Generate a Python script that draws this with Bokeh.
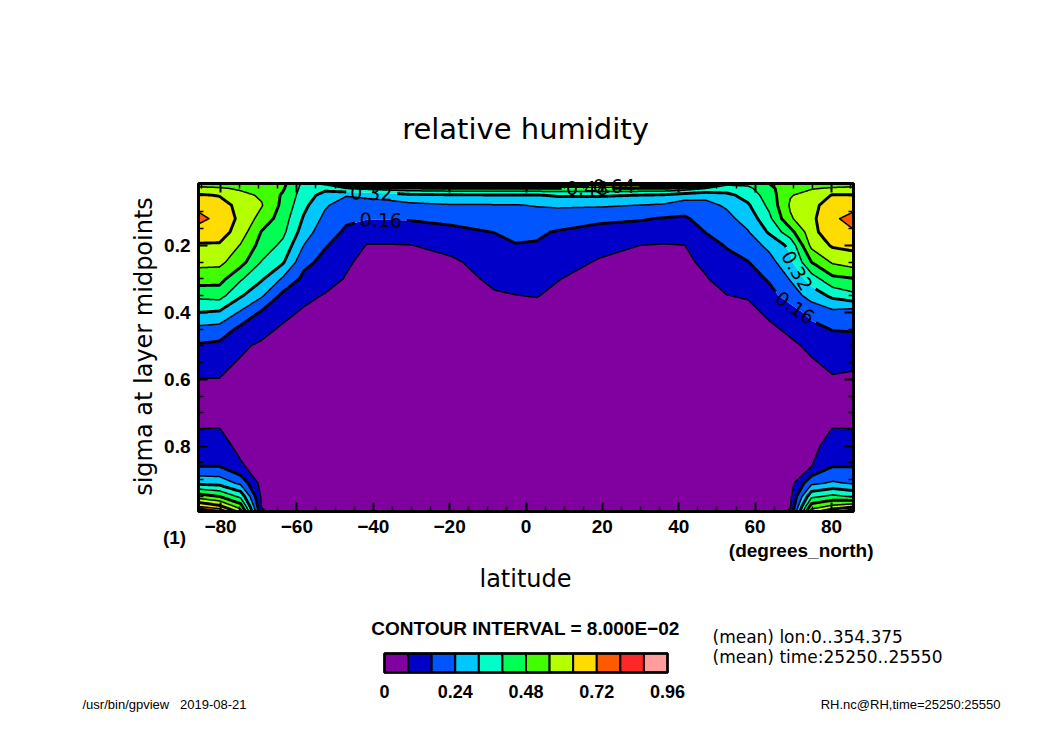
import math
import numpy as np
import contourpy
from bokeh.plotting import figure
from bokeh.models import Range1d, FixedTicker, LinearAxis, Label
from bokeh.embed import file_html
from bokeh.resources import INLINE

# ---------------- data ----------------
lats = [-85.76, -80.27, -74.74, -69.21, -63.68, -58.14, -52.61, -47.07, -41.53, -36.00,
        -30.46, -19.38, -8.31, -2.77, 2.77, 8.31, 19.38, 30.46, 36.00, 41.53,
        47.07, 52.61, 58.14, 63.68, 69.21, 74.74, 80.27, 85.76]
sigma = [0.015, 0.03, 0.05, 0.08, 0.12, 0.16, 0.2, 0.25, 0.3, 0.35, 0.4,
         0.45, 0.5, 0.6, 0.7, 0.75, 0.8, 0.86, 0.91, 0.95, 0.98, 0.995]

# one vertical profile (top -> bottom, at the sigma levels above) per latitude
rh_by_lat = [
    [0.52, 0.58, 0.65, 0.70, 0.74, 0.69, 0.63, 0.58, 0.52, 0.42, 0.32, 0.22, 0.15, 0.078, 0.06, 0.081, 0.11, 0.16, 0.30, 0.52, 0.72, 0.88],
    [0.52, 0.57, 0.635, 0.68, 0.70, 0.68, 0.63, 0.58, 0.51, 0.43, 0.31, 0.21, 0.14, 0.078, 0.06, 0.082, 0.11, 0.16, 0.29, 0.48, 0.66, 0.80],
    [0.50, 0.55, 0.58, 0.61, 0.62, 0.60, 0.555, 0.51, 0.41, 0.33, 0.23, 0.14, 0.09, 0.06, 0.05, 0.05, 0.06, 0.09, 0.22, 0.38, 0.52, 0.60],
    [0.50, 0.53, 0.55, 0.565, 0.53, 0.475, 0.45, 0.395, 0.33, 0.25, 0.15, 0.10, 0.07, 0.05, 0.04, 0.04, 0.04, 0.045, 0.05, 0.065, 0.075, 0.09],
    [0.50, 0.49, 0.47, 0.46, 0.44, 0.42, 0.38, 0.33, 0.23, 0.14, 0.10, 0.07, 0.05, 0.04, 0.035, 0.035, 0.035, 0.035, 0.04, 0.04, 0.045, 0.05],
    [0.38, 0.37, 0.36, 0.34, 0.31, 0.28, 0.238, 0.18, 0.14, 0.10, 0.07, 0.05, 0.045, 0.04, 0.035, 0.035, 0.035, 0.035, 0.035, 0.04, 0.04, 0.045],
    [0.42, 0.34, 0.29, 0.25, 0.22, 0.19, 0.165, 0.14, 0.11, 0.075, 0.05, 0.04, 0.04, 0.035, 0.03, 0.03, 0.03, 0.03, 0.03, 0.035, 0.035, 0.04],
    [0.70, 0.40, 0.245, 0.20, 0.17, 0.15, 0.13, 0.09, 0.075, 0.06, 0.05, 0.04, 0.035, 0.03, 0.03, 0.03, 0.03, 0.03, 0.03, 0.03, 0.035, 0.04],
    [0.80, 0.42, 0.26, 0.20, 0.162, 0.13, 0.075, 0.06, 0.05, 0.045, 0.04, 0.035, 0.03, 0.03, 0.03, 0.03, 0.03, 0.03, 0.03, 0.03, 0.035, 0.04],
    [0.82, 0.44, 0.27, 0.21, 0.163, 0.13, 0.075, 0.06, 0.05, 0.045, 0.04, 0.035, 0.03, 0.03, 0.03, 0.03, 0.03, 0.03, 0.03, 0.03, 0.035, 0.04],
    [0.85, 0.45, 0.30, 0.22, 0.165, 0.13, 0.078, 0.06, 0.05, 0.045, 0.04, 0.035, 0.03, 0.03, 0.03, 0.03, 0.03, 0.03, 0.03, 0.03, 0.035, 0.04],
    [0.85, 0.46, 0.31, 0.235, 0.18, 0.14, 0.10, 0.07, 0.06, 0.05, 0.045, 0.04, 0.035, 0.03, 0.03, 0.03, 0.03, 0.03, 0.03, 0.03, 0.035, 0.04],
    [0.85, 0.46, 0.315, 0.235, 0.19, 0.162, 0.13, 0.11, 0.09, 0.075, 0.06, 0.05, 0.045, 0.04, 0.035, 0.035, 0.035, 0.035, 0.035, 0.04, 0.04, 0.045],
    [0.85, 0.46, 0.315, 0.235, 0.19, 0.17, 0.158, 0.125, 0.10, 0.079, 0.065, 0.055, 0.05, 0.04, 0.035, 0.035, 0.035, 0.035, 0.035, 0.04, 0.04, 0.045],
    [0.85, 0.46, 0.315, 0.245, 0.20, 0.17, 0.155, 0.125, 0.10, 0.082, 0.065, 0.055, 0.05, 0.04, 0.035, 0.035, 0.035, 0.035, 0.035, 0.04, 0.04, 0.045],
    [0.85, 0.46, 0.33, 0.25, 0.20, 0.155, 0.13, 0.10, 0.082, 0.07, 0.06, 0.05, 0.045, 0.04, 0.035, 0.035, 0.035, 0.035, 0.035, 0.04, 0.04, 0.045],
    [0.85, 0.46, 0.33, 0.25, 0.175, 0.135, 0.095, 0.075, 0.06, 0.05, 0.045, 0.04, 0.035, 0.03, 0.03, 0.03, 0.03, 0.03, 0.03, 0.03, 0.035, 0.04],
    [0.85, 0.46, 0.318, 0.238, 0.165, 0.13, 0.079, 0.06, 0.05, 0.045, 0.04, 0.035, 0.03, 0.03, 0.03, 0.03, 0.03, 0.03, 0.03, 0.03, 0.035, 0.04],
    [0.85, 0.46, 0.31, 0.23, 0.155, 0.12, 0.075, 0.06, 0.05, 0.045, 0.04, 0.035, 0.03, 0.03, 0.03, 0.03, 0.03, 0.03, 0.03, 0.03, 0.035, 0.04],
    [0.82, 0.44, 0.28, 0.20, 0.15, 0.12, 0.079, 0.065, 0.055, 0.05, 0.045, 0.04, 0.035, 0.03, 0.03, 0.03, 0.03, 0.03, 0.03, 0.03, 0.035, 0.04],
    [0.72, 0.40, 0.26, 0.22, 0.19, 0.162, 0.135, 0.095, 0.075, 0.065, 0.055, 0.045, 0.04, 0.035, 0.03, 0.03, 0.03, 0.03, 0.03, 0.03, 0.035, 0.04],
    [0.42, 0.36, 0.30, 0.25, 0.22, 0.19, 0.165, 0.14, 0.11, 0.079, 0.06, 0.05, 0.045, 0.04, 0.035, 0.035, 0.035, 0.035, 0.035, 0.04, 0.04, 0.045],
    [0.42, 0.38, 0.35, 0.31, 0.27, 0.235, 0.20, 0.158, 0.12, 0.085, 0.065, 0.05, 0.045, 0.04, 0.035, 0.035, 0.035, 0.035, 0.035, 0.04, 0.04, 0.045],
    [0.48, 0.46, 0.44, 0.42, 0.38, 0.33, 0.26, 0.21, 0.17, 0.13, 0.09, 0.07, 0.055, 0.04, 0.035, 0.035, 0.035, 0.035, 0.04, 0.04, 0.045, 0.05],
    [0.50, 0.53, 0.555, 0.57, 0.55, 0.45, 0.34, 0.30, 0.245, 0.20, 0.12, 0.09, 0.07, 0.05, 0.04, 0.04, 0.04, 0.045, 0.05, 0.065, 0.075, 0.09],
    [0.50, 0.555, 0.59, 0.61, 0.62, 0.61, 0.58, 0.48, 0.36, 0.27, 0.19, 0.13, 0.09, 0.06, 0.05, 0.05, 0.06, 0.078, 0.22, 0.38, 0.52, 0.60],
    [0.52, 0.57, 0.645, 0.69, 0.71, 0.70, 0.65, 0.57, 0.46, 0.34, 0.22, 0.165, 0.11, 0.075, 0.06, 0.082, 0.11, 0.158, 0.25, 0.42, 0.58, 0.70],
    [0.52, 0.58, 0.645, 0.70, 0.74, 0.715, 0.66, 0.60, 0.475, 0.38, 0.20, 0.17, 0.11, 0.07, 0.06, 0.081, 0.11, 0.158, 0.23, 0.39, 0.62, 0.81],
]

levels = [0.0, 0.08, 0.16, 0.24, 0.32, 0.40, 0.48, 0.56, 0.64, 0.72, 0.80, 0.88, 0.96]
colors = ["#8000A0", "#0000C8", "#0055FF", "#00C8FF", "#00FFC8", "#00FF55",
          "#40FF00", "#B4FF00", "#FFDC00", "#FF5A00", "#FF2828", "#FF9C9C"]
thick_levels = [0.16, 0.32, 0.48, 0.64, 0.80]

x_ticks = [-80, -60, -40, -20, 0, 20, 40, 60, 80]
x_tick_labels = ["\u221280", "\u221260", "\u221240", "\u221220", "0", "20", "40", "60", "80"]
x_minor = [-85, -75, -70, -65, -55, -50, -45, -35, -30, -25, -15, -10, -5,
           5, 10, 15, 25, 30, 35, 45, 50, 55, 65, 70, 75, 85]
y_ticks = [0.2, 0.4, 0.6, 0.8]
y_minor = [0.05, 0.1, 0.15, 0.25, 0.3, 0.35, 0.45, 0.5, 0.55, 0.65, 0.7, 0.75, 0.85, 0.9, 0.95]
cbar_ticks = [0.0, 0.24, 0.48, 0.72, 0.96]
cbar_tick_labels = ["0", "0.24", "0.48", "0.72", "0.96"]

# contour labels: (level, latitude at which the label sits)
label_specs = [(0.16, -38.0), (0.32, -40.5), (0.48, 16.0), (0.64, 23.0), (0.32, 71.0), (0.16, 70.5)]

rh = np.array(rh_by_lat, dtype=float).T   # (n_sigma, n_lat)
LAT = np.array(lats, dtype=float)
SIG = np.array(sigma, dtype=float)

# ---------------- layout (pixels of the 1050 x 742 canvas, top-left origin) ----------------
W, H = 1050, 742
FL, FT, FW, FH = 198, 183, 655, 328          # the data box
CL, CT, CW, CH = 384, 653, 283, 19           # the colour-bar box
XMIN, XMAX = float(LAT[0]), float(LAT[-1])
YTOP, YBOT = float(SIG[0]), float(SIG[-1])
KX = FW / (XMAX - XMIN)
KY = FH / (YBOT - YTOP)

FONT_T = "DejaVu Sans"
FONT_B = "Liberation Sans"


def to_px(x, y):
    return (np.asarray(x) - XMIN) * KX, (np.asarray(y) - YTOP) * KY


def to_data(px, py):
    return XMIN + np.asarray(px) / KX, YTOP + np.asarray(py) / KY


p = figure(width=W, height=H,
           x_range=Range1d(XMIN - FL / KX, XMAX + (W - FL - FW) / KX),
           y_range=Range1d(YBOT + (H - FT - FH) / KY, YTOP - FT / KY),
           output_backend="svg", toolbar_location=None,
           min_border_left=0, min_border_right=0, min_border_top=0, min_border_bottom=0,
           x_axis_location=None, y_axis_location=None)
p.grid.visible = False
p.background_fill_color = "white"
p.border_fill_color = "white"
p.outline_line_color = None

# colour-bar scales
kcx = CW / (levels[-1] - levels[0])
p.extra_x_ranges["cbar"] = Range1d(levels[0] - CL / kcx, levels[-1] + (W - CL - CW) / kcx)
p.extra_y_ranges["cbar"] = Range1d(0 - (H - CT - CH) / CH, 1 + CT / CH)

# filled contours
p.contour(x=LAT, y=SIG, z=rh, levels=levels, fill_color=colors, line_color=None)


def crossing(lev, lat):
    col = np.array([np.interp(lat, LAT, rh[k, :]) for k in range(len(SIG))])
    for k in range(len(SIG) - 1):
        a, b = col[k] - lev, col[k + 1] - lev
        if a * b <= 0 and a != b:
            t = a / (a - b)
            return SIG[k] + t * (SIG[k + 1] - SIG[k])
    return None


labels = []
for lev, lat in label_specs:
    s0 = crossing(lev, lat)
    s1 = crossing(lev, lat - 1.5)
    s2 = crossing(lev, lat + 1.5)
    px1, py1 = to_px(lat - 1.5, s1)
    px2, py2 = to_px(lat + 1.5, s2)
    ang = -math.atan2(float(py2 - py1), float(px2 - px1))
    cx, cy = to_px(lat, s0)
    labels.append((lev, lat, s0, float(cx), float(cy), ang))

# contour lines (with gaps at the labels)
gen = contourpy.contour_generator(LAT, SIG, rh, line_type="Separate")
for lev in levels[1:-1]:
    segs_out_x, segs_out_y = [], []
    my_labels = [L for L in labels if abs(L[0] - lev) < 1e-9]
    for seg in gen.lines(lev):
        if len(seg) < 2:
            continue
        px, py = to_px(seg[:, 0], seg[:, 1])
        dpx, dpy = [px[0]], [py[0]]
        for i in range(1, len(px)):
            d = math.hypot(px[i] - px[i - 1], py[i] - py[i - 1])
            n = max(1, int(math.ceil(d)))
            t = np.linspace(0, 1, n + 1)[1:]
            dpx.extend(px[i - 1] + t * (px[i] - px[i - 1]))
            dpy.extend(py[i - 1] + t * (py[i] - py[i - 1]))
        dpx, dpy = np.array(dpx), np.array(dpy)
        keep = np.ones(len(dpx), dtype=bool)
        for (_, _, _, cx, cy, ang) in my_labels:
            dx = dpx - cx
            dyu = -(dpy - cy)
            u = dx * math.cos(ang) + dyu * math.sin(ang)
            v = -dx * math.sin(ang) + dyu * math.cos(ang)
            keep &= ~((np.abs(u) < 25) & (np.abs(v) < 10))
        start = None
        for i in range(len(keep) + 1):
            if i < len(keep) and keep[i]:
                if start is None:
                    start = i
            else:
                if start is not None and i - start >= 2:
                    xs, ys = to_data(dpx[start:i], dpy[start:i])
                    segs_out_x.append(list(xs))
                    segs_out_y.append(list(ys))
                start = None
    if segs_out_x:
        thick = any(abs(lev - t) < 1e-9 for t in thick_levels)
        p.multi_line(xs=segs_out_x, ys=segs_out_y, line_color="black",
                     line_width=2.9 if thick else 1.5, line_join="round")

for (lev, lat, s0, cx, cy, ang) in labels:
    p.add_layout(Label(x=lat, y=s0, text=f"{lev:.2f}", angle=ang, text_align="center",
                       text_baseline="middle", text_font=FONT_T, text_font_size="19px",
                       text_color="black"))

# frame of the data box
p.quad(left=[XMIN], right=[XMAX], bottom=[YBOT], top=[YTOP],
       fill_color=None, line_color="black", line_width=3)


def axis(ticks, minor, fixed, bounds, show_labels, overrides=None):
    ax = LinearAxis(ticker=FixedTicker(ticks=ticks, minor_ticks=minor),
                    fixed_location=fixed, bounds=bounds)
    ax.axis_line_color = None
    ax.major_tick_in = 9
    ax.major_tick_out = 0
    ax.minor_tick_in = 5
    ax.minor_tick_out = 0
    ax.major_tick_line_width = 2
    ax.minor_tick_line_width = 1.5
    ax.major_tick_line_color = "black"
    ax.minor_tick_line_color = "black"
    if show_labels:
        ax.major_label_text_font = FONT_B
        ax.major_label_text_font_style = "bold"
        ax.major_label_text_font_size = "19px"
        ax.major_label_text_color = "black"
        ax.major_label_standoff = 8
        if overrides:
            ax.major_label_overrides = overrides
    else:
        ax.major_label_text_color = None
    return ax


p.add_layout(axis(x_ticks, x_minor, YBOT, (XMIN, XMAX), True, dict(zip(x_ticks, x_tick_labels))), "below")
p.add_layout(axis(x_ticks, x_minor, YTOP, (XMIN, XMAX), False), "above")
p.add_layout(axis(y_ticks, y_minor, XMIN, (YTOP, YBOT), True), "left")
p.add_layout(axis(y_ticks, y_minor, XMAX, (YTOP, YBOT), False), "right")

# colour bar
p.quad(left=levels[:-1], right=levels[1:], bottom=0, top=1, fill_color=colors,
       line_color="black", line_width=2, x_range_name="cbar", y_range_name="cbar")
p.quad(left=[levels[0]], right=[levels[-1]], bottom=[0], top=[1], fill_color=None,
       line_color="black", line_width=2.5, x_range_name="cbar", y_range_name="cbar")
cax = LinearAxis(ticker=FixedTicker(ticks=cbar_ticks), x_range_name="cbar", y_range_name="cbar",
                 fixed_location=0)
cax.axis_line_color = None
cax.major_tick_line_color = None
cax.minor_tick_line_color = None
cax.major_label_text_font = FONT_B
cax.major_label_text_font_style = "bold"
cax.major_label_text_font_size = "18px"
cax.major_label_text_color = "black"
cax.major_label_standoff = 6
cax.major_label_overrides = dict(zip(cbar_ticks, cbar_tick_labels))
p.add_layout(cax, "below")


def txt(X, Y, text, size, font=FONT_T, style="normal", align="center", angle=0.0):
    p.add_layout(Label(x=X, y=H - Y, x_units="screen", y_units="screen", text=text,
                       text_font=font, text_font_size=size, text_font_style=style,
                       text_align=align, text_baseline="middle", angle=angle,
                       text_color="black"))


NB = "\u00a0"
txt(525, 128, "relative humidity", "29px")
txt(525, 578, "latitude", "24px")
txt(143, 346, "sigma at layer midpoints", "24px", angle=math.pi / 2)
txt(174, 537, "(1)", "19px", font=FONT_B, style="bold")
txt(873, 550, "(degrees_north)", "19px", font=FONT_B, style="bold", align="right")
txt(525, 628, "CONTOUR INTERVAL = 8.000E\u221202", "19px", font=FONT_B, style="bold")
txt(712, 636, "(mean) lon:0..354.375", "17px", align="left")
txt(712, 656, "(mean) time:25250..25550", "17px", align="left")
txt(82, 704, "/usr/bin/gpview" + NB * 3 + "2019-08-21", "13px", font=FONT_B, align="left")
txt(1000, 704, "RH.nc@RH,time=25250:25550", "13px", font=FONT_B, align="right")

open("out.html", "w").write(file_html(p, INLINE))
